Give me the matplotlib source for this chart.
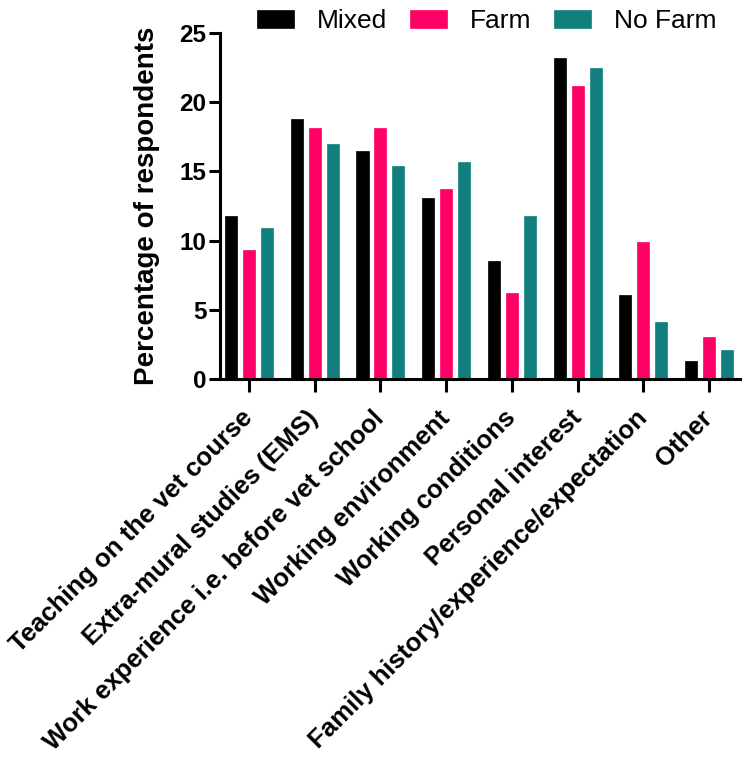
import matplotlib
matplotlib.use("Agg")
import matplotlib.pyplot as plt
import matplotlib.transforms as mtransforms
import numpy as np

plt.rcParams['font.family'] = ['Liberation Sans', 'DejaVu Sans']

# Data
categories = [
    "Teaching on the vet course",
    "Extra-mural studies (EMS)",
    "Work experience i.e. before vet school",
    "Working environment",
    "Working conditions",
    "Personal interest",
    "Family history/experience/expectation",
    "Other",
]
mixed = [11.8, 18.8, 16.5, 13.1, 8.5, 23.2, 6.1, 1.3]
farm = [9.3, 18.1, 18.1, 13.7, 6.2, 21.2, 9.9, 3.0]
no_farm = [10.9, 17.0, 15.4, 15.7, 11.8, 22.5, 4.1, 2.1]

series_names = ["Mixed", "Farm", "No Farm"]
series_colors = ["#000000", "#FF0066", "#107F7D"]

fig = plt.figure(figsize=(7.42, 7.58), dpi=100)
ax = fig.add_axes([0.297, 0.5, 0.703, 0.4565])

x = np.arange(len(categories))
pitch = 0.273
width = 0.184
for i, (vals, name, col) in enumerate(zip([mixed, farm, no_farm], series_names, series_colors)):
    ax.bar(x + (i - 1) * pitch, vals, width=width, color=col, label=name,
           edgecolor=col, linewidth=0.5)

ax.set_xlim(-0.435, 7.5)
ax.set_ylim(0, 25)
ax.set_yticks([0, 5, 10, 15, 20, 25])
ax.set_xticks(x)
ax.set_xticklabels(categories, rotation=45, ha='right', va='center',
                   rotation_mode='anchor', fontsize=18.5, fontweight='bold')
# nudge the rotated labels a little to the right, like the original
shift = mtransforms.ScaledTranslation(0.06, 0, fig.dpi_scale_trans)
for lab in ax.get_xticklabels():
    lab.set_transform(lab.get_transform() + shift)
for lab in ax.get_yticklabels():
    lab.set_fontsize(17.5)
    lab.set_fontweight('bold')

ax.set_ylabel("Percentage of respondents", fontsize=20, fontweight='bold', labelpad=14)

for side in ['top', 'right']:
    ax.spines[side].set_visible(False)
for side in ['left', 'bottom']:
    ax.spines[side].set_linewidth(2.2)
ax.tick_params(axis='both', width=2.2, length=8, direction='out')
ax.tick_params(axis='y', pad=2)
ax.tick_params(axis='x', length=9.5, pad=16)

handles, labels = ax.get_legend_handles_labels()
fig.legend(handles, labels, loc='center left', bbox_to_anchor=(0.346, 0.972),
           ncol=3, frameon=False, fontsize=19, borderpad=0, borderaxespad=0,
           handlelength=1.4, handleheight=0.72, handletextpad=0.87,
           columnspacing=0.87)

fig.savefig("out.png", dpi=100)
